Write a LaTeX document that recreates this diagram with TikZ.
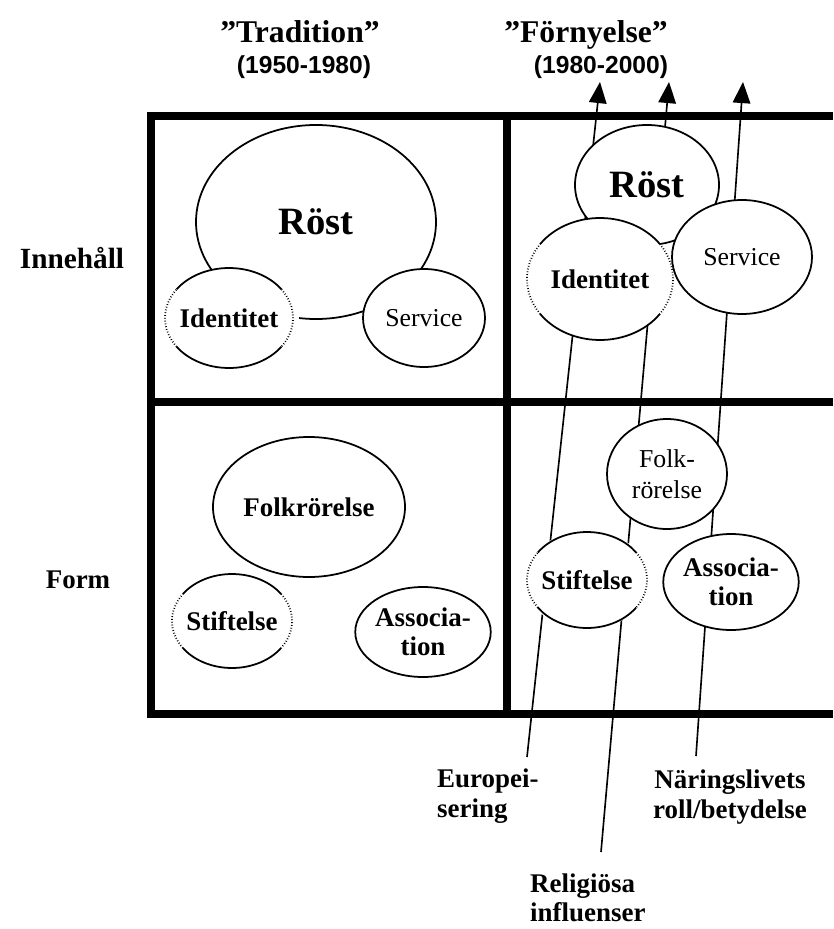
\documentclass[tikz,border=0pt]{standalone}
\usepackage{fontspec}
\setmainfont{Liberation Serif}
\setsansfont{Liberation Sans}
\usetikzlibrary{shapes.geometric}
\usetikzlibrary{arrows.meta}

% solid top and bottom, dotted sides
\newcommand{\sidedots}[3]{%
  \draw[rim] (#1) ++(35:#2 and #3) arc[start angle=35,end angle=145,x radius=#2,y radius=#3];
  \draw[rim] (#1) ++(215:#2 and #3) arc[start angle=215,end angle=325,x radius=#2,y radius=#3];
  \draw[dotrim] (#1) ++(145:#2 and #3) arc[start angle=145,end angle=215,x radius=#2,y radius=#3];
  \draw[dotrim] (#1) ++(-35:#2 and #3) arc[start angle=-35,end angle=35,x radius=#2,y radius=#3];
}

\begin{document}
\begin{tikzpicture}[x=0.03cm,y=-0.03cm]
	\tikzstyle{bar}=[line width=7pt]
	\tikzstyle{rim}=[line width=1.5pt]
	\tikzstyle{dotrim}=[line width=1.5pt,dash pattern=on 0.7pt off 1.7pt]
	\tikzstyle{oval}=[ellipse,draw,rim,fill=white,inner sep=0pt]
	\tikzstyle{halfoval}=[ellipse,fill=white,inner sep=0pt]
	\tikzstyle{flow}=[line width=1.4pt,-{Triangle[length=18pt,width=15pt]}]
	\tikzstyle{big}=[font=\fontsize{33}{36}\selectfont\bfseries]
	\tikzstyle{lbl}=[font=\fontsize{23}{25}\selectfont\bfseries,align=center,inner sep=0pt]
	\tikzstyle{reg}=[font=\fontsize{22}{26}\selectfont,align=center]
	\tikzstyle{head}=[font=\fontsize{27}{30}\selectfont\bfseries,inner sep=0pt]
	\tikzstyle{years}=[font=\sffamily\bfseries\fontsize{21}{24}\selectfont,inner sep=0pt]
	\tikzset{radii/.style 2 args={minimum width=#1*0.06cm,minimum height=#2*0.06cm}}
	\useasboundingbox (0,0) rectangle (833,929);

	% frame
	\draw[bar,line join=miter] (833,116) -| (151,714) -- (833,714);
	\draw[bar] (151,402) -- (833,402);
	\draw[bar] (507,116) -- (507,714);

	% headings
	\path (300,43) node[anchor=base,head] (trad) {”Tradition”};
	\path (304,74) node[anchor=base,years] (tradyr) {(1950-1980)};
	\path (586,43) node[anchor=base,head] (forn) {”Förnyelse”};
	\path (601,74) node[anchor=base,years] (fornyr) {(1980-2000)};
	\path (72,258) node[lbl,font=\fontsize{25}{28}\selectfont\bfseries] (inn) {Innehåll};
	\path (78,580) node[lbl] (form) {Form};

	% influences
	\coordinate (s1) at (527,757); \coordinate (t1) at (600,82);
	\coordinate (s2) at (601,852); \coordinate (t2) at (669,82);
	\coordinate (s3) at (696,756); \coordinate (t3) at (743,82);
	\draw[flow] (s1) -- (t1);
	\draw[flow] (s2) -- (t2);
	\draw[flow] (s3) -- (t3);
	\path (437,796) node[lbl,anchor=west,align=left] (europ) {Europei-\\sering};
	\path (730,797) node[lbl] (naring) {Näringslivets\\roll/betydelse};
	\path (530,898) node[lbl,anchor=west,align=left] (relig) {Religiösa\\influenser};

	% tradition
	\path (316,222) node[oval,radii={120}{97},big] (rostL) {Röst};
	\path (229,318) node[halfoval,radii={64}{50},lbl] (idL) {Identitet};
	\sidedots{idL}{64}{50}
	\path (424,318) node[oval,radii={61}{49},reg] (svL) {Service};
	\path (309,507) node[oval,radii={96}{70},lbl] (folkL) {Folkrörelse};
	\path (232,621) node[halfoval,radii={60}{47},lbl] (stiftL) {Stiftelse};
	\sidedots{stiftL}{60}{47}
	\path (423,632) node[oval,radii={60}{45},lbl] (assL) {Associa-\\tion};

	% fornyelse
	\path (647,185) node[oval,radii={72}{60},big] (rostR) {Röst};
	\path (600,279) node[halfoval,radii={73}{61},lbl] (idR) {Identitet};
	\sidedots{idR}{73}{61}
	\path (742,257) node[oval,radii={70}{57},reg] (svR) {Service};
	\path (667,474) node[oval,radii={60}{55},reg] (folkR) {Folk-\\rörelse};
	\path (587,580) node[halfoval,radii={60}{48},lbl] (stiftR) {Stiftelse};
	\sidedots{stiftR}{60}{48}
	\path (731,582) node[oval,radii={60}{48},lbl] (assR) {Associa-\\tion};
\end{tikzpicture}
\end{document}
